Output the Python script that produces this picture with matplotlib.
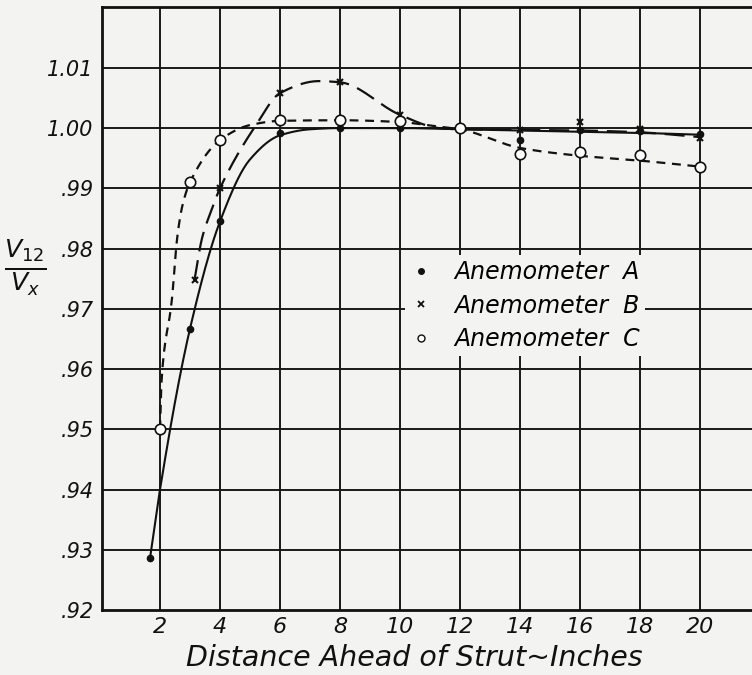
import numpy as np
import matplotlib
matplotlib.use("Agg")
import matplotlib.pyplot as plt
from matplotlib.lines import Line2D

# ---- data ----
# measured points
a_x = [1.67, 3, 4, 6, 8, 10, 12, 14, 16, 18, 20]
a_y = [0.9287, 0.9667, 0.9845, 0.9992, 1.0000, 1.0000, 0.9999, 0.9980, 0.9997, 0.9995, 0.9991]
b_x = [3.15, 4, 6, 8, 10, 12, 14, 16, 18, 20]
b_y = [0.9748, 0.9900, 1.0058, 1.0077, 1.0022, 1.0000, 0.9996, 1.0010, 0.9998, 0.9983]
c_x = [2, 3, 4, 6, 8, 10, 12, 14, 16, 18, 20]
c_y = [0.9500, 0.9910, 0.9980, 1.0013, 1.0013, 1.0012, 1.0000, 0.9957, 0.9960, 0.9955, 0.9935]

# faired curves as drawn
a_cx = [1.67, 2, 3, 4, 5, 6, 7, 8, 10, 12, 14, 16, 18, 20]
a_cy = [0.9287, 0.9400, 0.9667, 0.9845, 0.9948, 0.9988, 0.9998, 1.0000, 1.0000, 0.9998, 0.9996, 0.9994, 0.9992, 0.9989]
b_cx = [3.15, 3.4, 3.7, 4, 5.2, 6, 7.3, 8, 10, 11.3, 12, 14, 16, 18, 20]
b_cy = [0.9748, 0.9817, 0.9862, 0.9900, 1.0005, 1.0058, 1.0078, 1.0076, 1.0022, 1.0000, 0.9998, 0.9997, 0.9996, 0.9993, 0.9985]
c_cx = [2, 2.05, 2.4, 2.57, 2.75, 3, 4, 5, 6, 8, 10, 11.2, 12, 14, 16, 18, 20]
c_cy = [0.9500, 0.9580, 0.9717, 0.9817, 0.9872, 0.9910, 0.9980, 1.0005, 1.0012, 1.0013, 1.0010, 1.0003, 0.9998, 0.9967, 0.9954, 0.9946, 0.9936]

x_ticks = [2, 4, 6, 8, 10, 12, 14, 16, 18, 20]
x_labels = ["2", "4", "6", "8", "10", "12", "14", "16", "18", "20"]
y_ticks = [0.92, 0.93, 0.94, 0.95, 0.96, 0.97, 0.98, 0.99, 1.00, 1.01]
y_labels = [".92", ".93", ".94", ".95", ".96", ".97", ".98", ".99", "1.00", "1.01"]
series_names = ["Anemometer  A", "Anemometer  B", "Anemometer  C"]


def pchip(x, y, xs):
    x = np.asarray(x, float); y = np.asarray(y, float)
    h = np.diff(x); d = np.diff(y) / h
    n = len(x); m = np.zeros(n)
    for k in range(1, n - 1):
        if d[k - 1] * d[k] > 0:
            w1 = 2 * h[k] + h[k - 1]; w2 = h[k] + 2 * h[k - 1]
            m[k] = (w1 + w2) / (w1 / d[k - 1] + w2 / d[k])
    m[0] = d[0]; m[-1] = d[-1]
    idx = np.clip(np.searchsorted(x, xs) - 1, 0, n - 2)
    t = (xs - x[idx]) / h[idx]
    h00 = 2 * t**3 - 3 * t**2 + 1; h10 = t**3 - 2 * t**2 + t
    h01 = -2 * t**3 + 3 * t**2; h11 = t**3 - t**2
    return h00 * y[idx] + h10 * h[idx] * m[idx] + h01 * y[idx + 1] + h11 * h[idx] * m[idx + 1]


bg = "#f3f3f1"
fig = plt.figure(figsize=(7.52, 6.75), dpi=100, facecolor=bg)
ax = fig.add_axes([102 / 752, 65 / 675, 650 / 752, 603 / 675], facecolor=bg)
ax.set_xlim(0.067, 21.73)
ax.set_ylim(0.92, 1.0201)

for xv in x_ticks:
    ax.axvline(xv, color="#1a1a1a", lw=1.4, zorder=1)
for yv in y_ticks[1:]:
    ax.axhline(yv, color="#1a1a1a", lw=1.4, zorder=1)

xs = np.linspace(a_cx[0], a_cx[-1], 400)
ax.plot(xs, pchip(a_cx, a_cy, xs), color="#111", lw=1.5, zorder=3)
xs = np.linspace(b_cx[0], b_cx[-1], 400)
ax.plot(xs, pchip(b_cx, b_cy, xs), color="#111", lw=1.6, dashes=(9, 4), zorder=3)
xs = np.linspace(c_cx[0], c_cx[-1], 400)
ax.plot(xs, pchip(c_cx, c_cy, xs), color="#111", lw=1.6, dashes=(4, 3), zorder=3)

ax.plot(a_x, a_y, "o", ms=4.5, color="#111", zorder=4)
ax.plot(b_x, b_y, "x", ms=5, mew=1.5, color="#111", zorder=4)
ax.plot(c_x, c_y, "o", ms=7.5, mfc="white", mec="#111", mew=1.2, zorder=5)

for s in ["left", "bottom", "top"]:
    ax.spines[s].set_linewidth(2.0)
    ax.spines[s].set_color("#111")
ax.spines["right"].set_visible(False)

ax.set_xticks(x_ticks)
ax.set_xticklabels(x_labels, fontsize=16, style="italic")
ax.set_yticks(y_ticks)
ax.set_yticklabels(y_labels, fontsize=15, style="italic")
ax.tick_params(length=0, pad=6, colors="#111")
ax.tick_params(axis="x", pad=5)
ax.set_xlabel("Distance Ahead of Strut~Inches", fontsize=20.5, style="italic", color="#111")
ax.xaxis.set_label_coords(0.48, -0.057)

fig.text(25 / 752, 1 - 268 / 675, r"$\frac{V_{12}}{V_x}$", fontsize=26, ha="center", va="center", color="#111")

handles = [
    Line2D([], [], ls="none", marker="o", ms=4, color="#111"),
    Line2D([], [], ls="none", marker="x", ms=4, mew=1.3, color="#111"),
    Line2D([], [], ls="none", marker="o", ms=5, mfc="white", mec="#111"),
]
leg = ax.legend(handles, series_names, loc="upper left", bbox_to_anchor=(0.466, 0.588),
                frameon=True, facecolor=bg, edgecolor="none", framealpha=1,
                prop={"size": 17, "style": "italic"}, handlelength=1.0, handletextpad=0.9,
                labelspacing=0.4, borderpad=0.2, borderaxespad=0, fancybox=False)
leg.set_zorder(6)

fig.savefig("out.png", dpi=100, facecolor=bg)
